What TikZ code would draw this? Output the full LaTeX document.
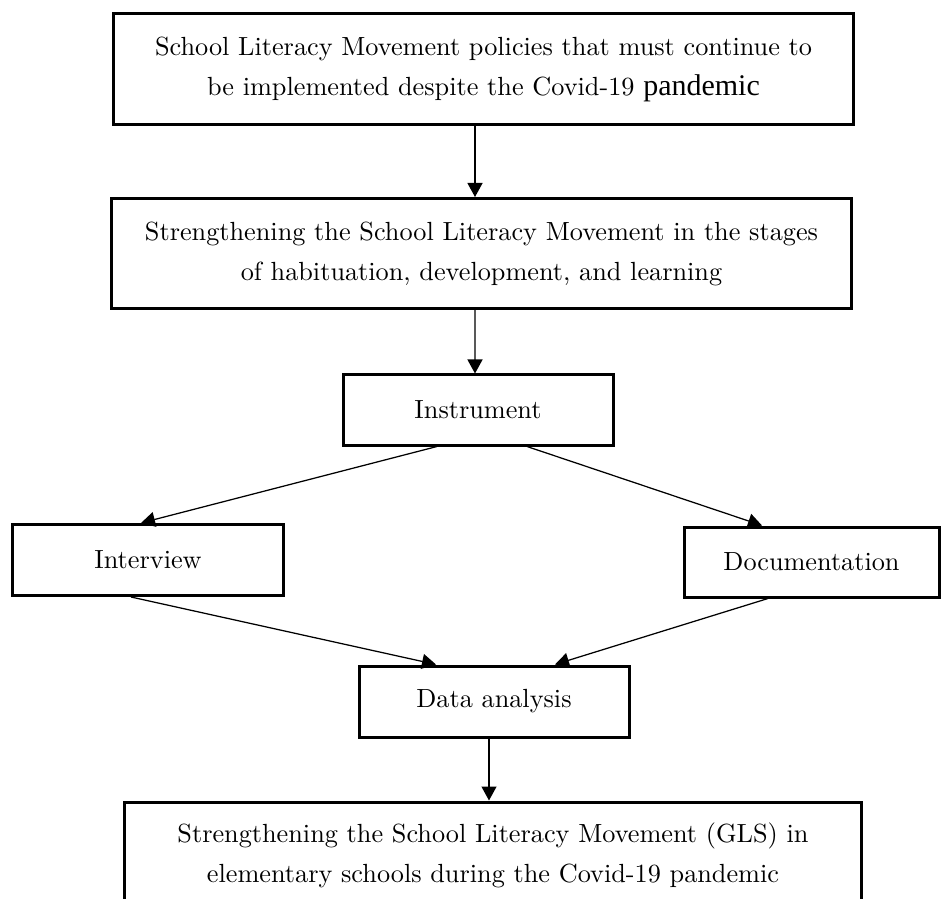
\documentclass[tikz,border=0pt]{standalone}
\usepackage{fontspec}
\usepackage{xcolor}
\usetikzlibrary{arrows.meta}
\newfontfamily\timesfont{Liberation Serif}

\tikzset{
    flowbox/.style={draw, line width=1.2pt, inner sep=0pt, align=center,
        font=\fontsize{10.5}{16}\selectfont},
    flowarrow/.style={line width=0.5pt, -{Triangle[length=5.6pt,width=6pt]}}
}

\begin{document}
\begin{tikzpicture}[x=0.4pt,y=-0.4pt]
 	   \useasboundingbox (0,0) rectangle (941,899);
 	   \clip (0,0) rectangle (941,899);
 	   \node [flowbox,minimum width=295.6pt,minimum height=44.4pt] (policy) at (483.5,69.5)
    		{School Literacy Movement policies that must continue to\\
    		 be implemented despite the Covid-19 {\timesfont\fontsize{12}{16}\selectfont pandemic}};
 	   \node [flowbox,minimum width=296pt,minimum height=44pt] (strength) at (481.5,253.5)
    		{Strengthening the School Literacy Movement in the stages\\
    		 of habituation, development, and learning};
 	   \node [flowbox,minimum width=108pt,minimum height=28pt] (instrument) at (478,410)
    		{Instrument};
 	   \node [flowbox,minimum width=108pt,minimum height=28.4pt] (interview) at (148,560)
    		{Interview};
 	   \node [flowbox,minimum width=102pt,minimum height=28pt] (documentation) at (811.5,562)
    		{Documentation};
 	   \node [flowbox,minimum width=108pt,minimum height=28.4pt] (analysis) at (494,701.5)
    		{Data analysis};
 	   \node [flowbox,minimum width=294.4pt,minimum height=42.4pt] (result) at (493,855)
    		{Strengthening the School Literacy Movement (GLS) in\\
    		 elementary schools during the Covid-19 pandemic};

 	   \draw [flowarrow] ([xshift=-3.4pt]policy.south) -- ([xshift=-2.6pt]strength.north);
 	   \draw [flowarrow] ([xshift=-2.6pt]strength.south) -- ([xshift=-1.2pt]instrument.north);
 	   \draw [flowarrow] ([xshift=-16.4pt]instrument.south) -- ([xshift=-2.8pt]interview.north);
 	   \draw [flowarrow] ([xshift=19.6pt]instrument.south) -- ([xshift=-19.8pt]documentation.north);
 	   \draw [flowarrow] ([xshift=-6.8pt]interview.south) -- ([xshift=-23.2pt]analysis.north);
 	   \draw [flowarrow] ([xshift=-17.4pt]documentation.south) -- ([xshift=24.4pt]analysis.north);
 	   \draw [flowarrow] ([xshift=-2pt]analysis.south) -- ([xshift=-1.6pt]result.north);
  \end{tikzpicture}
\end{document}
